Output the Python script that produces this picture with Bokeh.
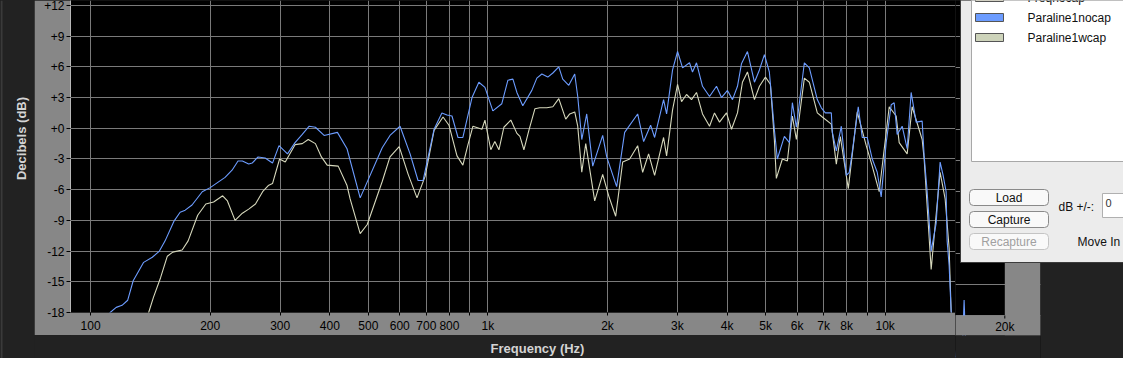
from bokeh.plotting import figure
from bokeh.layouts import row, column
from bokeh.models import Range1d, FixedTicker, BoxAnnotation, Label, Grid
from bokeh.embed import file_html
from bokeh.resources import INLINE

# ---------------- data (frequency in Hz, level in dB) ----------------
nocap_freq = [100, 112, 116, 120, 124, 128, 136, 143, 149, 154,
              162, 168, 173, 180, 191, 200, 218, 227, 235, 241,
              250, 255, 264, 275, 287, 298, 313, 327, 341, 355,
              368, 387, 418, 442, 477, 491, 542, 567, 601, 637,
              667, 687, 732, 766, 789, 812, 841, 865, 912, 949,
              983, 1029, 1084, 1123, 1156, 1183, 1224, 1290, 1328, 1367,
              1415, 1457, 1508, 1543, 1598, 1654, 1683, 1723, 1773, 1836,
              1945, 1991, 2109, 2209, 2382, 2466, 2568, 2628, 2768, 2817,
              2916, 3002, 3090, 3217, 3273, 3350, 3469, 3613, 3762, 3872,
              4009, 4127, 4248, 4347, 4501, 4687, 4824, 4966, 5110, 5260,
              5352, 5575, 5739, 5839, 5976, 6259, 6442, 6747, 6906, 7068,
              7318, 7361, 7533, 7754, 7982, 8121, 8263, 8554, 8755, 9010,
              9276, 9548, 9770, 10058, 10353, 10534, 10718, 11033, 11357, 11623,
              11964, 12389, 12533, 12753, 13052, 13434, 13748, 13989, 14235, 14318,
              14484, 14652, 14995, 15618, 15798, 15981]
nocap_db = [-20.5, -18.0, -17.5, -17.3, -16.8, -14.9, -13.1, -12.6, -12.0, -11.0,
            -9.1, -8.2, -8.0, -7.5, -6.2, -5.8, -4.8, -4.1, -3.2, -3.2,
            -3.5, -3.4, -2.8, -2.9, -3.4, -1.7, -2.5, -1.4, -0.6, 0.2,
            0.1, -0.7, -0.4, -2.0, -6.8, -5.7, -1.9, -0.7, 0.2, -2.5,
            -5.1, -5.1, -0.1, 1.5, 1.3, 1.2, -0.9, -0.9, 3.0, 4.5,
            4.0, 1.7, 2.4, 4.7, 4.8, 3.5, 2.2, 3.7, 4.9, 5.3,
            5.0, 5.4, 6.0, 4.8, 4.2, 5.3, 3.1, -1.1, 1.4, -3.7,
            -0.7, -2.8, -5.7, -0.4, 1.4, -1.3, 0.3, -0.9, 2.8, 1.4,
            5.7, 7.5, 5.9, 6.4, 5.5, 6.4, 4.1, 3.1, 4.1, 3.0,
            3.7, 2.8, 4.1, 6.3, 7.5, 4.5, 5.7, 7.2, 5.5, -0.1,
            -3.0, -0.8, -1.4, 2.5, 0.1, 6.4, 5.9, 2.8, 2.0, 1.5,
            1.5, -0.4, -2.2, 0.2, -4.6, -4.3, -2.3, 2.1, -0.9, -0.9,
            -3.0, -4.3, -6.7, -1.4, 2.3, 2.5, -0.6, 0.2, -2.0, 3.5,
            0.6, 0.7, -2.7, -6.2, -12.0, -9.3, -3.3, -4.6, -6.2, -11.0,
            -13.4, -17.8, -22.0, -22.0, -16.5, -22.0]

wcap_freq = [137, 140, 144, 150, 156, 161, 170, 176, 186, 195,
             204, 215, 221, 231, 241, 250, 260, 271, 280, 287,
             299, 309, 327, 341, 353, 368, 381, 394, 420, 442,
             450, 477, 497, 542, 567, 598, 630, 663, 695, 732,
             771, 798, 836, 865, 891, 917, 966, 983, 1017, 1041,
             1066, 1097, 1142, 1183, 1204, 1232, 1268, 1313, 1351, 1407,
             1457, 1508, 1570, 1607, 1654, 1683, 1723, 1763, 1857, 1945,
             2014, 2097, 2184, 2274, 2382, 2452, 2538, 2628, 2768, 2817,
             2916, 3002, 3072, 3162, 3255, 3350, 3469, 3613, 3718, 3828,
             3986, 4104, 4248, 4372, 4501, 4687, 4824, 4995, 5141, 5260,
             5321, 5510, 5673, 5839, 5976, 6259, 6442, 6747, 6946, 7318,
             7533, 7709, 8074, 8504, 8960, 9276, 9658, 10235, 10656, 10844,
             11357, 11690, 12389, 12533, 13052, 13357, 13748, 14154, 14484, 14652,
             14910]
wcap_db = [-19.0, -18.0, -16.5, -14.6, -12.5, -12.1, -11.9, -11.0, -8.5, -7.4,
           -7.2, -6.6, -7.1, -9.0, -8.3, -7.9, -7.4, -6.2, -5.6, -5.4,
           -3.0, -3.3, -1.6, -1.5, -1.1, -1.5, -2.8, -3.6, -3.7, -5.6,
           -6.9, -10.3, -9.4, -5.2, -2.8, -1.8, -4.5, -6.8, -4.7, -0.2,
           1.1, 0.3, -2.7, -3.6, -1.6, 0.2, -0.1, 0.8, -2.1, -1.3,
           -2.1, 0.1, 0.8, -0.5, -0.8, -2.1, -0.2, 1.9, 2.0, 2.0,
           2.1, 2.9, 0.9, 1.4, 1.6, 0.2, -4.3, -1.5, -7.1, -4.5,
           -6.6, -8.6, -3.3, -3.0, -1.7, -4.3, -2.5, -4.6, -0.9, -2.7,
           1.8, 4.3, 2.6, 3.3, 2.8, 3.5, 1.4, 0.2, 1.5, 0.6,
           1.5, -0.1, 1.5, 4.5, 5.5, 2.8, 4.1, 5.0, 4.3, -1.1,
           -4.9, -3.0, -3.2, 1.2, -1.1, 4.9, 4.5, 1.5, 1.1, 0.4,
           -3.5, -0.8, -5.9, 1.6, -1.7, -3.7, -6.2, 2.1, 1.2, -1.4,
           -2.5, 2.1, -1.1, -3.0, -13.8, -9.5, -4.3, -6.9, -11.7, -17.8,
           -22.0]

series_names = ["Freqnocap", "Paraline1nocap", "Paraline1wcap"]

x_ticks = [100, 200, 300, 400, 500, 600, 700, 800, 900,
           1000, 2000, 3000, 4000, 5000, 6000, 7000, 8000, 9000, 10000, 20000]
x_tick_labels = ["100", "200", "300", "400", "500", "600", "700", "800", "",
                 "1k", "2k", "3k", "4k", "5k", "6k", "7k", "8k", "", "10k", "20k"]
y_ticks = [-18, -15, -12, -9, -6, -3, 0, 3, 6, 9, 12]
y_tick_labels = ["-18", "-15", "-12", "-9", "-6", "-3", "+0", "+3", "+6", "+9", "+12"]

x_title = "Frequency (Hz)"
y_title = "Decibels (dB)"

# ---------------- layout (canvas pixels) ----------------
W, H = 1123, 358
GX0, GX1, GY1 = 34, 1040, 335      # gray surround: left, right, bottom
FX0, FY1 = 70, 315                 # plot frame: left edge, bottom edge
SPLIT = 955                        # right-hand part (panel side) starts here
X_END = 1004.3                     # right edge of the plot frame (20 kHz)
DEC = 397.3                        # pixels per decade
PX_DB = 310 / 30.0                 # pixels per dB

BG = "#222222"
GRAY = "#878787"
GRID = "#7a7a7a"
BLUE = "#6c9cff"
BEIGE = "#d6d8bc"
FONT = "Liberation Sans"

F_TOP = x_ticks[-1]


def f_at(x):
    return F_TOP * 10 ** ((x - X_END) / DEC)


def db_at(y):
    return y_ticks[0] + (FY1 - y) / PX_DB


def add_box(fig, ox, oh, x0, y0, x1, y1, fill, line=None, level="overlay", **kw):
    fig.add_layout(BoxAnnotation(
        left=x0 - ox, right=x1 - ox, top=oh - y0, bottom=oh - y1,
        left_units="screen", right_units="screen", top_units="screen", bottom_units="screen",
        fill_color=fill, fill_alpha=1.0, line_color=line, line_alpha=1.0, level=level, **kw))


def add_label(fig, ox, oh, x, y, text, size="12px", color="#111111", align="left",
              bold=False, angle=0, level="overlay"):
    fig.add_layout(Label(
        x=x - ox, y=oh - y, x_units="screen", y_units="screen", text=text,
        text_font=FONT, text_font_size=size, text_color=color, text_align=align,
        text_baseline="middle", text_font_style="bold" if bold else "normal",
        angle=angle, angle_units="deg", level=level))


def blank(width, height, x_range=None, y_range=None, log=False, bg=BG):
    f = figure(width=width, height=height, output_backend="svg", toolbar_location=None,
               x_axis_type="log" if log else "linear",
               x_range=x_range or Range1d(0, 1), y_range=y_range or Range1d(0, 1),
               x_axis_location=None, y_axis_location=None,
               min_border=0, min_border_left=0, min_border_right=0,
               min_border_top=0, min_border_bottom=0)
    f.grid.visible = False
    f.background_fill_color = bg
    f.border_fill_color = BG
    f.outline_line_color = None
    f.styles = {"background-color": BG}
    return f


# ---------------- main plot ----------------
p = figure(width=SPLIT - GX0, height=GY1, x_axis_type="log",
           x_range=Range1d(f_at(FX0), f_at(SPLIT)), y_range=Range1d(y_ticks[0], db_at(0)),
           output_backend="svg", toolbar_location=None,
           min_border_left=FX0 - GX0, min_border_right=0,
           min_border_top=0, min_border_bottom=GY1 - FY1)
p.border_fill_color = GRAY
p.background_fill_color = "black"
p.outline_line_color = None

p.xaxis.ticker = FixedTicker(ticks=x_ticks)
p.yaxis.ticker = FixedTicker(ticks=y_ticks)
p.xgrid.ticker = p.xaxis.ticker
p.ygrid.ticker = p.yaxis.ticker
p.xaxis.major_label_overrides = {t: s for t, s in zip(x_ticks, x_tick_labels)}
p.yaxis.major_label_overrides = {t: s for t, s in zip(y_ticks, y_tick_labels)}
p.grid.grid_line_color = GRID
p.grid.grid_line_width = 1

for ax in (p.xaxis, p.yaxis):
    ax.major_label_text_font = FONT
    ax.major_label_text_font_size = "12px"
    ax.major_label_text_color = "black"
    ax.minor_tick_line_color = None
    ax.major_tick_line_color = "black"
    ax.major_tick_in = 0
p.yaxis.major_tick_out = 4
p.yaxis.major_label_standoff = 2
p.yaxis.axis_line_color = "#b8b8b8"
p.xaxis.major_tick_out = 3
p.xaxis.major_label_standoff = 3
p.xaxis.axis_line_color = None

p.line(wcap_freq, wcap_db, line_color=BEIGE, line_width=1.1)
p.line(nocap_freq, nocap_db, line_color=BLUE, line_width=1.1)

# ---------------- left strip (y title) ----------------
left = blank(GX0, H)
add_box(left, 0, H, 0, 0, 2, H, "#3a3a3a", level="underlay")
add_label(left, 0, H, 21, 138, y_title, size="13px", color="#d4d4d4", align="center",
          bold=True, angle=90)

# ---------------- bottom strip (x title); its frame is aligned with the plot frame ----
bottom = blank(SPLIT - GX0, H - GY1)
add_label(bottom, FX0, H - GY1, 537, 348 - GY1, x_title, size="13px", color="#d4d4d4",
          align="center", bold=True)

# ---------------- right part: end of plot + series panel ----------------
r = blank(W - SPLIT, H, x_range=Range1d(f_at(SPLIT), f_at(W)),
          y_range=Range1d(db_at(H), db_at(0)), log=True, bg="black")
r.add_layout(Grid(dimension=1, ticker=FixedTicker(ticks=y_ticks),
                  grid_line_color=GRID, grid_line_width=1))
r.line(wcap_freq, wcap_db, line_color=BEIGE, line_width=1.1)
r.line(nocap_freq, nocap_db, line_color=BLUE, line_width=1.1)

RB = dict(fig=r, ox=SPLIT, oh=H)
add_box(**RB, x0=SPLIT - 2, y0=FY1, x1=GX1, y1=GY1, fill=GRAY, level="annotation")
add_box(**RB, x0=X_END, y0=0, x1=GX1, y1=GY1, fill=GRAY, level="annotation")
add_box(**RB, x0=GX1, y0=0, x1=W + 2, y1=H + 2, fill=BG, level="annotation")
add_box(**RB, x0=SPLIT - 2, y0=GY1, x1=GX1, y1=H + 2, fill=BG, level="annotation")
add_box(**RB, x0=X_END - 0.5, y0=FY1, x1=X_END + 0.5, y1=FY1 + 3, fill="black",
        level="annotation")
add_label(**RB, x=X_END, y=326.5, text=x_tick_labels[-1], size="12px", color="black",
          align="center", level="annotation")

# panel
add_box(**RB, x0=960, y0=-2, x1=W + 2, y1=262, fill="#ececec", line="#3c3c3c")
add_box(**RB, x0=971, y0=-4, x1=W + 2, y1=161, fill="white", line="#a8a8a8")
swatch_colors = ["#e6e2c8", BLUE, "#cdd3ba"]
swatch_y = [-3, 17, 37]
for name, col, yy in zip(series_names, swatch_colors, swatch_y):
    add_box(**RB, x0=975, y0=yy - 4, x1=1003, y1=yy + 4, fill=col, line="#555555")
    add_label(**RB, x=1027, y=yy, text=name)

for txt, yy, col, edge in [("Load", 197, "#111111", "#8a8a8a"),
                           ("Capture", 219, "#111111", "#8a8a8a"),
                           ("Recapture", 241, "#a0a0a0", "#c4c4c4")]:
    add_box(**RB, x0=969, y0=yy - 8, x1=1048, y1=yy + 8, fill="#f9f9f9", line=edge,
            border_radius=4)
    add_label(**RB, x=1008.5, y=yy, text=txt, color=col, align="center")

add_label(**RB, x=1058, y=206, text="dB +/-:")
add_box(**RB, x0=1102, y0=193, x1=W + 4, y1=217, fill="white", line="#b0b0b0")
add_label(**RB, x=1105, y=202, text="0", size="11px", color="#333333")
add_label(**RB, x=1077, y=241, text="Move In Line")

mid = column(p, bottom)
mid.styles = {"background-color": BG}
layout = row(left, mid, r)
layout.styles = {"background-color": BG}
open("out.html", "w").write(file_html(layout, INLINE))
